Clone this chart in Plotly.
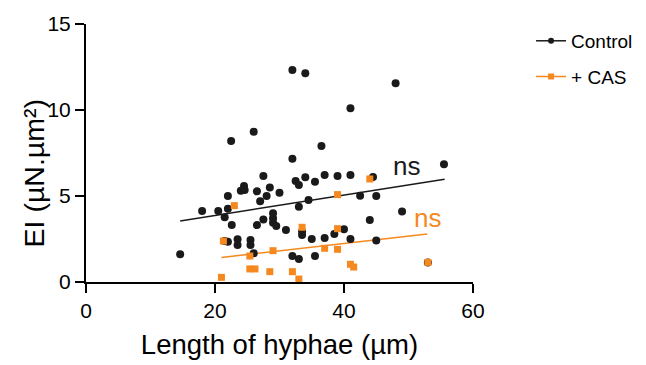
import plotly.graph_objects as go

# Control (black circles)
control_x = [32.0, 34.0, 48.0, 41.0, 26.0, 22.5, 36.5, 32.0, 55.5, 27.5,
             32.5, 34.0, 35.5, 37.0, 39.0, 41.0, 44.5, 33.0, 24.5, 24.0,
             24.6, 28.5, 26.5, 30.0, 28.0, 22.0, 27.0, 34.5, 33.0, 18.0,
             20.5, 22.0, 42.5, 45.0, 49.0, 44.0, 21.5, 22.6, 26.5, 27.5,
             29.0, 29.0, 29.0, 29.5, 31.0, 33.5, 33.5, 35.0, 37.0, 38.5,
             40.0, 41.0, 45.0, 21.5, 22.0, 23.5, 23.5, 25.5, 25.5, 14.6,
             26.0, 32.0, 33.0, 35.5, 53.0]
control_y = [12.33, 12.13, 11.55, 10.10, 8.74, 8.20, 7.91, 7.17, 6.84, 6.16,
             5.87, 6.09, 5.83, 6.22, 6.16, 6.22, 6.10, 5.64, 5.58, 5.31,
             5.35, 5.50, 5.27, 5.19, 5.00, 5.00, 4.69, 4.77, 4.38, 4.13,
             4.13, 4.26, 5.02, 5.00, 4.10, 3.60, 3.76, 3.31, 3.31, 3.64,
             3.99, 3.70, 3.45, 3.26, 3.02, 2.93, 2.73, 2.50, 2.56, 2.79,
             3.07, 2.50, 2.42, 2.38, 2.34, 2.48, 2.15, 2.44, 2.15, 1.61,
             1.67, 1.51, 1.34, 1.51, 1.14]

# + CAS (orange squares)
cas_x = [23.0, 44.0, 39.0, 33.5, 39.0, 21.3, 37.0, 39.0, 29.0, 25.4,
         41.0, 41.5, 53.0, 25.4, 26.2, 28.5, 32.0, 33.0, 21.0]
cas_y = [4.44, 5.99, 5.08, 3.18, 3.10, 2.38, 1.96, 1.90, 1.82, 1.51,
         1.03, 0.87, 1.14, 0.76, 0.76, 0.60, 0.60, 0.17, 0.27]

# Regression lines
control_fit_x = [14.6, 55.6]
control_fit_y = [3.55, 5.97]
cas_fit_x = [21.0, 52.9]
cas_fit_y = [1.43, 2.79]

series_names = ["Control", "+ CAS"]
x_ticks = [0, 20, 40, 60]
y_ticks = [0, 5, 10, 15]

BLACK = "#1a1a1a"
ORANGE = "#F5891F"
FONT = "Liberation Sans, Arial, Helvetica, sans-serif"

fig = go.Figure()

# fit lines
fig.add_trace(go.Scatter(x=control_fit_x, y=control_fit_y, mode="lines",
                         line=dict(color=BLACK, width=1.5), showlegend=False,
                         hoverinfo="skip"))
fig.add_trace(go.Scatter(x=cas_fit_x, y=cas_fit_y, mode="lines",
                         line=dict(color=ORANGE, width=1.5), showlegend=False,
                         hoverinfo="skip"))

# data
fig.add_trace(go.Scatter(x=control_x, y=control_y, mode="markers",
                         marker=dict(color=BLACK, size=8, symbol="circle"),
                         showlegend=False, cliponaxis=False))
fig.add_trace(go.Scatter(x=cas_x, y=cas_y, mode="markers",
                         marker=dict(color=ORANGE, size=7, symbol="square"),
                         showlegend=False, cliponaxis=False))

# legend entries
fig.add_trace(go.Scatter(x=[None], y=[None], mode="lines+markers", name=series_names[0],
                         line=dict(color=BLACK, width=1.5),
                         marker=dict(color=BLACK, size=6, symbol="circle"),
                         legendgroup="a"))
fig.add_trace(go.Scatter(x=[None], y=[None], mode="lines+markers", name=series_names[1],
                         line=dict(color=ORANGE, width=1.5),
                         marker=dict(color=ORANGE, size=6, symbol="square"),
                         legendgroup="b"))

fig.add_annotation(x=49.7, y=6.74, text="ns", showarrow=False,
                   font=dict(size=26, color=BLACK, family=FONT))
fig.add_annotation(x=53.0, y=3.72, text="ns", showarrow=False,
                   font=dict(size=26, color=ORANGE, family=FONT))

# y-axis title as annotation so its position can match
fig.add_annotation(xref="paper", yref="paper", x=-0.135, y=0.42,
                   text="EI (µN.µm²)", textangle=-90, showarrow=False,
                   xanchor="center", yanchor="middle",
                   font=dict(size=28.5, color="black", family=FONT))

fig.update_layout(
    width=646, height=365,
    margin=dict(l=86, r=173, t=24, b=83, autoexpand=False),
    paper_bgcolor="white", plot_bgcolor="white",
    font=dict(family=FONT, color="black"),
    legend=dict(x=1.150, y=1.008, xanchor="left", yanchor="top",
                font=dict(size=19, family=FONT), tracegroupgap=8,
                bgcolor="rgba(0,0,0,0)"),
    xaxis=dict(range=[0, 60], tickvals=x_ticks, showline=True, linecolor="black",
               linewidth=2, ticks="outside", ticklen=9, tickwidth=2, tickcolor="black",
               showgrid=False, zeroline=False, tickfont=dict(size=21), automargin=False,
               title=dict(text="Length of hyphae (µm)", font=dict(size=27.5), standoff=14)),
    yaxis=dict(range=[0, 15], tickvals=y_ticks, showline=True, linecolor="black",
               linewidth=2, ticks="outside", ticklen=9, tickwidth=2, tickcolor="black",
               showgrid=False, zeroline=False, tickfont=dict(size=21), automargin=False),
)

fig.write_html("out.html")
